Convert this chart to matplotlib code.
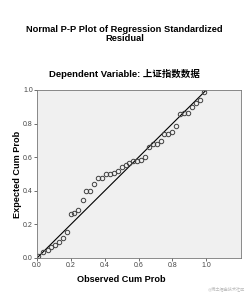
import numpy as np
import matplotlib
matplotlib.use("Agg")
import matplotlib.pyplot as plt

# observed vs expected cumulative probabilities
obs = [0.008, 0.037, 0.063, 0.085, 0.107, 0.130, 0.152, 0.176, 0.198, 0.220,
       0.245, 0.269, 0.292, 0.314, 0.338, 0.362, 0.383, 0.407, 0.430, 0.452,
       0.476, 0.500, 0.523, 0.545, 0.569, 0.591, 0.615, 0.638, 0.660, 0.683,
       0.707, 0.731, 0.753, 0.776, 0.800, 0.822, 0.846, 0.870, 0.893, 0.917,
       0.940, 0.962, 0.986]
exp = [0.010, 0.036, 0.049, 0.065, 0.079, 0.095, 0.117, 0.153, 0.264, 0.268,
       0.288, 0.343, 0.399, 0.399, 0.440, 0.474, 0.476, 0.498, 0.498, 0.508,
       0.520, 0.540, 0.554, 0.565, 0.577, 0.580, 0.583, 0.603, 0.659, 0.678,
       0.677, 0.696, 0.736, 0.738, 0.752, 0.786, 0.859, 0.861, 0.865, 0.900,
       0.921, 0.943, 0.990]
ticks = [0.0, 0.2, 0.4, 0.6, 0.8, 1.0]

plt.rcParams['font.family'] = ['Liberation Sans', 'Noto Sans CJK SC', 'DejaVu Sans']

fig = plt.figure(figsize=(2.49, 2.96), dpi=100)
ax = fig.add_axes([37/249, 38/296, 204/249, 168/296])
ax.set_facecolor('#f0f0f0')

ax.plot([0, 1], [0, 1], c='k', lw=0.8)
ax.plot(obs, exp, ls='none', marker='o', ms=3.2, mfc='none', mec='#404040', mew=0.7)

ax.set_xlim(0, 1.205)
ax.set_ylim(0, 1.0)
ax.set_xticks(ticks)
ax.set_yticks(ticks)
ax.set_xticklabels(['{:.1f}'.format(t) for t in ticks])
ax.set_yticklabels(['{:.1f}'.format(t) for t in ticks])
ax.tick_params(axis='both', length=2, width=0.6, color='#555555',
               labelsize=5, labelcolor='#444444', pad=1)
for s in ax.spines.values():
    s.set_color('#777777')
    s.set_linewidth(0.6)

# label centred on the 0..1 part of the x axis, as SPSS does
ax.set_xlabel('Observed Cum Prob', fontsize=6.6, fontweight='bold')
ax.xaxis.set_label_coords(0.5 / 1.205, -0.1)
ax.set_ylabel('Expected Cum Prob', fontsize=6.6, fontweight='bold')
ax.yaxis.set_label_coords(-0.075, 0.5)

fig.text(0.5, 1 - 34/296, 'Normal P-P Plot of Regression Standardized\nResidual',
         ha='center', va='center', fontsize=6.7, fontweight='bold', linespacing=0.95)
fig.text(0.5, 1 - 74/296, 'Dependent Variable: 上证指数数据',
         ha='center', va='center', fontsize=6.8, fontweight='bold')
fig.text(0.985, 0.015, '@稀土掘金技术社区', ha='right', va='bottom',
         fontsize=3, color='#bbbbbb')

fig.savefig('out.png', dpi=100)
